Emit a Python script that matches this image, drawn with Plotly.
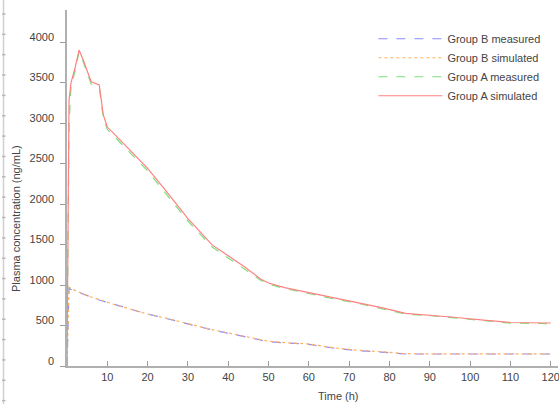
import plotly.graph_objects as go

# ---------------- data ----------------
time_h = [0, 0.5, 1, 2, 3, 4, 6, 8, 9, 10, 12, 16, 20, 24, 30, 36, 40, 44, 48, 50,
          54, 60, 66, 72, 78, 84, 90, 96, 104, 110, 120]

group_b_measured = [0, 960, 945, 925, 905, 888, 850, 815, 800, 782, 752, 695, 640, 595,
                    520, 445, 405, 362, 325, 300, 285, 268, 222, 190, 172, 148, 148,
                    148, 148, 148, 148]
group_b_simulated = [0, 975, 955, 930, 908, 890, 852, 818, 802, 785, 755, 698, 642, 597,
                     522, 448, 408, 366, 328, 305, 288, 272, 226, 195, 176, 152, 150,
                     150, 150, 150, 150]
group_a_measured = [0, 3000, 3450, 3640, 3880, 3760, 3480, 3440, 3060, 2920, 2820, 2610,
                    2410, 2160, 1790, 1470, 1335, 1205, 1060, 1012, 955, 895, 830, 775,
                    712, 640, 622, 596, 558, 530, 522]
group_a_simulated = [0, 3280, 3500, 3680, 3900, 3780, 3510, 3470, 3100, 2950, 2850, 2650,
                     2440, 2195, 1820, 1495, 1358, 1226, 1074, 1025, 968, 906, 840, 784,
                     720, 650, 630, 602, 564, 537, 531]

series_names = ["Group B measured", "Group B simulated", "Group A measured", "Group A simulated"]
series_values = [group_b_measured, group_b_simulated, group_a_measured, group_a_simulated]
series_colors = ["#8c8cff", "#ffb060", "#7ee07e", "#ff8080"]
series_dash = ["dash", "dot", "dash", "solid"]

x_tickvals = [10, 20, 30, 40, 50, 60, 70, 80, 90, 100, 110, 120]
y_tickvals = [0, 500, 1000, 1500, 2000, 2500, 3000, 3500, 4000]

x_title = "Time (h)"
y_title = "Plasma concentration (ng/mL)"

# ---------------- figure ----------------
W, H = 559, 404
ML, MR, MT, MB = 67, 1, 10, 38
pw, ph = W - ML - MR, H - MT - MB

fig = go.Figure()
for name, vals, col, dash in zip(series_names, series_values, series_colors, series_dash):
    fig.add_trace(go.Scatter(x=time_h, y=vals, mode="lines", name=name,
                             line=dict(color=col, width=1.2, dash=dash)))

font = dict(family="Arial, Liberation Sans, sans-serif", size=11, color="#444444")

fig.update_layout(
    width=W, height=H,
    margin=dict(l=ML, r=MR, t=MT, b=MB, autoexpand=False),
    paper_bgcolor="white", plot_bgcolor="white",
    font=font,
    showlegend=True,
    legend=dict(x=0.624, y=0.96, xanchor="left", yanchor="top",
                bgcolor="rgba(0,0,0,0)", itemwidth=64, font=font,
                tracegroupgap=0),
    xaxis=dict(range=[0, 121.8], tickvals=x_tickvals, ticks="inside", ticklen=5,
               tickcolor="#999999", showline=True, linecolor="#b0b0b0", linewidth=1.5,
               showgrid=False, zeroline=False, tickangle=0, automargin=False,
               ticklabeloverflow="allow"),
    yaxis=dict(range=[0, 4395], tickvals=y_tickvals, ticks="outside", ticklen=5,
               tickcolor="#999999", showline=True, linecolor="#b0b0b0", linewidth=1.5,
               showgrid=False, zeroline=False, automargin=False,
               ticklabelshift=-5, ticklabelstandoff=4),
)

# axis titles as annotations (placed like the reference)
fig.add_annotation(text=x_title, xref="paper", yref="paper",
                   x=(338 - ML) / pw, y=-(396 - MT - ph) / ph, showarrow=False,
                   xanchor="center", yanchor="middle", font=font)
fig.add_annotation(text=y_title, xref="paper", yref="paper", textangle=-90,
                   x=(16 - ML) / pw, y=(MT + ph - 219) / ph, showarrow=False,
                   xanchor="center", yanchor="middle", font=font)

# decorative left edge rule with small ticks
def px_to_paper_x(px):
    return (px - ML) / pw

def px_to_paper_y(py):
    return (MT + ph - py) / ph

fig.add_shape(type="line", xref="paper", yref="paper",
              x0=px_to_paper_x(3.5), x1=px_to_paper_x(3.5),
              y0=px_to_paper_y(404), y1=px_to_paper_y(0),
              line=dict(color="#d0d0d0", width=1.5))
k = 0
while 14 + k * 20.35 < 404:
    py = 14 + k * 20.35
    fig.add_shape(type="line", xref="paper", yref="paper",
                  x0=px_to_paper_x(2), x1=px_to_paper_x(5.5),
                  y0=px_to_paper_y(py), y1=px_to_paper_y(py),
                  line=dict(color="#b8b8b8", width=1.5))
    k += 1

fig.write_html("out.html", config={"displayModeBar": False},
               post_script="document.body.style.margin='0px';document.body.style.overflow='hidden';")
